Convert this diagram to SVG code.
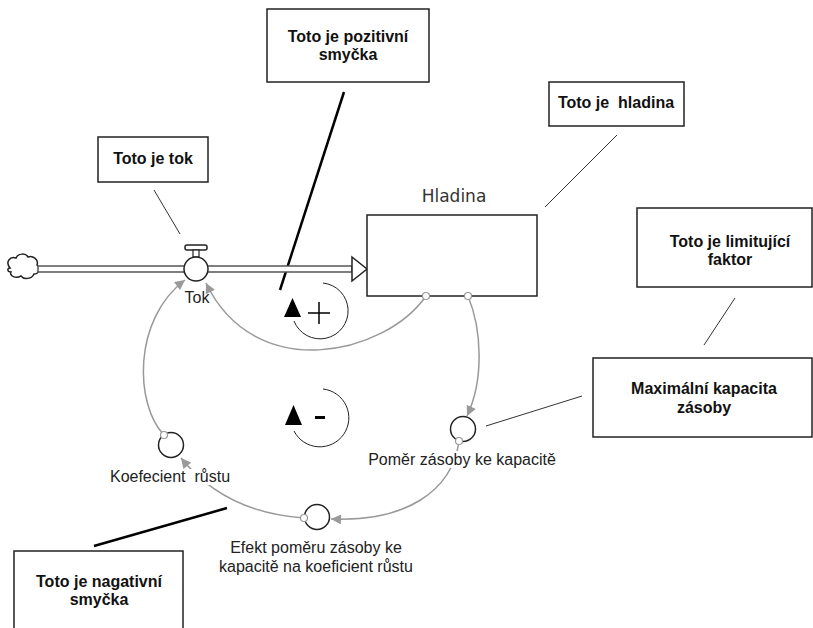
<svg xmlns="http://www.w3.org/2000/svg" width="813" height="628" viewBox="0 0 813 628">
<defs>
<style>
.box{fill:#fff;stroke:#222;stroke-width:1.5}
.ct{font-family:"Liberation Sans",Arial,sans-serif;font-size:16px;font-weight:bold;fill:#111;text-anchor:middle}
.lb{font-family:"Liberation Sans",Arial,sans-serif;font-size:16px;fill:#222;text-anchor:middle}
.conn{fill:none;stroke:#999;stroke-width:1.5}
.aux{fill:#fff;stroke:#222;stroke-width:1.5}
.dot{fill:#fff;stroke:#999;stroke-width:1.2}
.thin{stroke:#333;stroke-width:1;fill:none}
.thick{stroke:#000;stroke-width:2.5;fill:none}
.loop{fill:none;stroke:#222;stroke-width:1}
.bg{fill:#fff}
</style>
<marker id="ah" viewBox="0 0 10 10" refX="10" refY="5" markerWidth="11" markerHeight="10" markerUnits="userSpaceOnUse" orient="auto">
<path d="M0,0 L10,5 L0,10 z" fill="#999"/>
</marker>
</defs>
<rect width="813" height="628" fill="#fff"/>

<g id="connectors">
<path class="conn" d="M426,296 C385,355 255,385 206,283" marker-end="url(#ah)"/>
<path class="conn" d="M468,296 C482,330 484,380 467,416" marker-end="url(#ah)"/>
<path class="conn" d="M459,441 C452,492 405,522 331,519" marker-end="url(#ah)"/>
<path class="conn" d="M304,518 C260,515 215,500 181,458" marker-end="url(#ah)"/>
<path class="conn" d="M164,435 C135,405 132,320 185,280" marker-end="url(#ah)"/>
<line class="thin" x1="154" y1="190" x2="180" y2="234"/>
<line class="thick" x1="344" y1="92" x2="280" y2="290"/>
<line class="thin" x1="617" y1="135" x2="545" y2="207"/>
<line class="thin" x1="735" y1="298" x2="704" y2="345"/>
<line class="thin" x1="582" y1="396" x2="486" y2="426"/>
<line class="thick" x1="94" y1="546" x2="227" y2="508"/>
</g>

<g id="cloud">
<path d="M10,268 C5,262 10,256 16,258 C18,253 26,253 28,257 C33,255 39,260 37,265 C41,268 39,274 34,274 C32,279 24,280 21,276 C16,279 9,276 11,272 C7,272 7,268 10,268 z" fill="#fff" stroke="#222" stroke-width="1.5"/>
</g>

<g id="pipe">
<rect x="38" y="266" width="314" height="6" fill="#fff" stroke="#555" stroke-width="1.5"/>
<path d="M352,257 L367,269 L352,281 z" fill="#fff" stroke="#222" stroke-width="1.5"/>
</g>

<g id="tok">
<rect x="185" y="245" width="22" height="5" rx="2" fill="#fff" stroke="#222" stroke-width="1.5"/>
<rect x="193" y="250" width="6" height="7" fill="#fff" stroke="#222" stroke-width="1.2"/>
<circle cx="196" cy="269" r="12" class="aux"/>
<text class="lb" x="197" y="303">Tok</text>
</g>

<g id="hladina">
<text x="454" y="202" font-family="DejaVu Sans,Verdana,sans-serif" font-size="17" fill="#333" text-anchor="middle">Hladina</text>
<rect x="367" y="215" width="170" height="81" fill="#fff" stroke="#222" stroke-width="1.5"/>
<circle cx="426" cy="296" r="3.5" class="dot"/>
<circle cx="468" cy="296" r="3.5" class="dot"/>
</g>

<g id="pomer">
<rect class="bg" x="366" y="451" width="192" height="17"/>
<circle cx="463" cy="429" r="12.5" class="aux"/>
<circle cx="459" cy="441" r="3.5" class="dot"/>
<text class="lb" x="462" y="465">Poměr zásoby ke kapacitě</text>
</g>

<g id="efekt">
<circle cx="317" cy="517" r="12.5" class="aux"/>
<circle cx="304" cy="518" r="3.5" class="dot"/>
<text class="lb" x="316" y="553">Efekt poměru zásoby ke</text>
<text class="lb" x="316" y="572">kapacitě na koeficient růstu</text>
</g>

<g id="koeficient">
<rect class="bg" x="108" y="469" width="124" height="16"/>
<circle cx="171" cy="445" r="12.5" class="aux"/>
<circle cx="164" cy="435" r="3.5" class="dot"/>
<text class="lb" x="170" y="482" xml:space="preserve">Koefecient  růstu</text>
</g>

<g id="loop-positive">
<path class="loop" d="M323,283 A28,28 0 1 1 294,321"/>
<path d="M284,317 L301,317 L292.5,298 z" fill="#000"/>
<path d="M308,313 H330 M319,302 V324" stroke="#000" stroke-width="1.5"/>
</g>

<g id="loop-negative">
<path class="loop" d="M323,389 A29,29 0 1 1 294,431"/>
<path d="M285,425 L302,425 L293.5,405 z" fill="#000"/>
<rect x="315" y="416" width="10" height="3" fill="#000"/>
</g>

<g id="callout-tok">
<rect class="box" x="98" y="137" width="110" height="45"/>
<text class="ct" x="153" y="164">Toto je tok</text>
</g>

<g id="callout-pozitivni">
<rect class="box" x="267" y="9" width="162" height="73"/>
<text class="ct" x="348" y="42">Toto je pozitivní</text>
<text class="ct" x="348" y="60">smyčka</text>
</g>

<g id="callout-hladina">
<rect class="box" x="549" y="82" width="135" height="44"/>
<text class="ct" x="616" y="108" xml:space="preserve">Toto je  hladina</text>
</g>

<g id="callout-limit">
<rect class="box" x="637" y="208" width="175" height="79"/>
<text class="ct" x="730" y="247">Toto je limitující</text>
<text class="ct" x="730" y="265">faktor</text>
</g>

<g id="callout-kapacita">
<rect class="box" x="593" y="358" width="219" height="79"/>
<text class="ct" x="704" y="394">Maximální kapacita</text>
<text class="ct" x="704" y="413">zásoby</text>
</g>

<g id="callout-negativni">
<rect class="box" x="14" y="551" width="169" height="90"/>
<text class="ct" x="99" y="587">Toto je nagativní</text>
<text class="ct" x="99" y="605">smyčka</text>
</g>
</svg>
